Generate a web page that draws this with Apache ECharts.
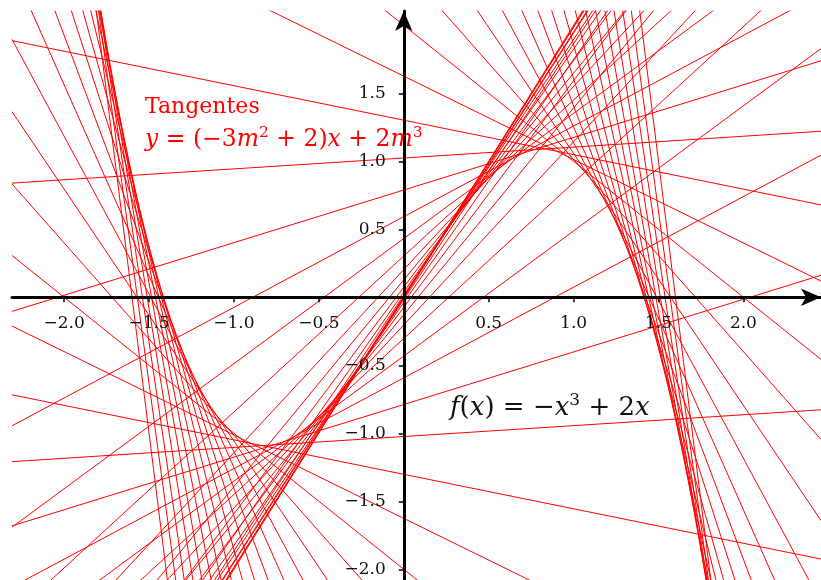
<!DOCTYPE html>
<html>
<head>
<meta charset="utf-8">
<script src="https://cdn.jsdelivr.net/npm/echarts@6.0.0/dist/echarts.min.js"></script>
<style>
  html, body { margin: 0; padding: 0; background: #fff; }
  #chart { width: 821px; height: 580px; }
</style>
</head>
<body>
<div id="chart"></div>
<script>
// points de contact m des tangentes (pas de 1/15 entre -2 et 2)
var mValues = [
  -2, -1.9333, -1.8667, -1.8, -1.7333, -1.6667, -1.6, -1.5333, -1.4667, -1.4,
  -1.3333, -1.2667, -1.2, -1.1333, -1.0667, -1, -0.9333, -0.8667, -0.8, -0.7333,
  -0.6667, -0.6, -0.5333, -0.4667, -0.4, -0.3333, -0.2667, -0.2, -0.1333, -0.0667,
  0,
  0.0667, 0.1333, 0.2, 0.2667, 0.3333, 0.4, 0.4667, 0.5333, 0.6, 0.6667,
  0.7333, 0.8, 0.8667, 0.9333, 1, 1.0667, 1.1333, 1.2, 1.2667, 1.3333,
  1.4, 1.4667, 1.5333, 1.6, 1.6667, 1.7333, 1.8, 1.8667, 1.9333, 2
];
var xRange = [-2.307, 2.457];
var yRange = [-2.079, 2.105];
var xTicks = [-2, -1.5, -1, -0.5, 0.5, 1, 1.5, 2];
var yTicks = [-2, -1.5, -1, -0.5, 0.5, 1, 1.5];

// tangente en m : y = (-3m^2 + 2)x + 2m^3
function tangent(m, x) {
  return (-3 * m * m + 2) * x + 2 * m * m * m;
}

var series = mValues.map(function(m) {
  return {
    type: "line",
    symbol: "none",
    silent: true,
    clip: true,
    lineStyle: { color: "#ff0000", width: 1 },
    data: [
      [xRange[0], tangent(m, xRange[0])],
      [xRange[1], tangent(m, xRange[1])]
    ]
  };
});

function fmt(v) {
  return v.toFixed(1).replace("-", "\u2212");
}

var labelFont = "DejaVu Serif";

function axisStyle(ticks) {
  return {
    axisLine: {
      onZero: false,
      symbol: ["none", "arrow"],
      symbolSize: [13, 20],
      lineStyle: { color: "#000", width: 3 }
    },
    axisTick: {
      customValues: ticks,
      length: 5,
      lineStyle: { color: "#000", width: 1.5 }
    },
    axisLabel: {
      customValues: ticks,
      margin: 18,
      color: "#111",
      fontFamily: labelFont,
      fontSize: 17,
      formatter: fmt
    }
  };
}

// styles riches pour les formules (italique + exposants)
function mathRich(color, size, supSize) {
  return {
    n: { fontFamily: labelFont, fontSize: size, lineHeight: size + 6, fill: color },
    i: { fontFamily: labelFont, fontStyle: "italic", fontSize: size, lineHeight: size + 6, fill: color },
    s: { fontFamily: labelFont, fontSize: supSize, lineHeight: supSize - 3, verticalAlign: "top", fill: color }
  };
}

var xAxis = Object.assign(
  { type: "value", position: "bottom", min: xRange[0], max: xRange[1], z: 10, splitLine: { show: false } },
  axisStyle(xTicks)
);
var yAxis = Object.assign(
  { type: "value", position: "left", min: yRange[0], max: yRange[1], z: 10, splitLine: { show: false } },
  axisStyle(yTicks)
);

var myChart = echarts.init(document.getElementById("chart"));
var option = {
  animation: false,
  backgroundColor: "#ffffff",
  grid: { left: 12, right: 0, top: 11, bottom: 0, containLabel: false, outerBoundsMode: "none" },
  xAxis: xAxis,
  yAxis: yAxis,
  graphic: [
    {
      type: "text",
      left: 145,
      top: 96,
      z: 20,
      style: {
        text: "Tangentes",
        fill: "#ff0000",
        font: "22px 'DejaVu Serif'"
      }
    },
    {
      type: "text",
      left: 145,
      top: 125,
      z: 20,
      style: {
        text: "{i|y}{n| = (\u22123}{i|m}{s|2}{n| + 2)}{i|x}{n| + 2}{i|m}{s|3}",
        rich: mathRich("#ff0000", 23.5, 15.5)
      }
    },
    {
      type: "text",
      left: 450,
      top: 392,
      z: 20,
      style: {
        text: "{i|f}{n|(}{i|x}{n|) = \u2212}{i|x}{s|3}{n| + 2}{i|x}",
        rich: mathRich("#111", 26, 17)
      }
    }
  ],
  series: series
};
myChart.setOption(option);

// déplacer les axes sur l'origine (x = 0, y = 0)
var origin = myChart.convertToPixel({ gridIndex: 0 }, [0, 0]);
var corner = myChart.convertToPixel({ gridIndex: 0 }, [xRange[0], yRange[0]]);
myChart.setOption({
  xAxis: { offset: -(corner[1] - origin[1]) },
  yAxis: { offset: -(origin[0] - corner[0]) }
});
</script>
</body>
</html>
